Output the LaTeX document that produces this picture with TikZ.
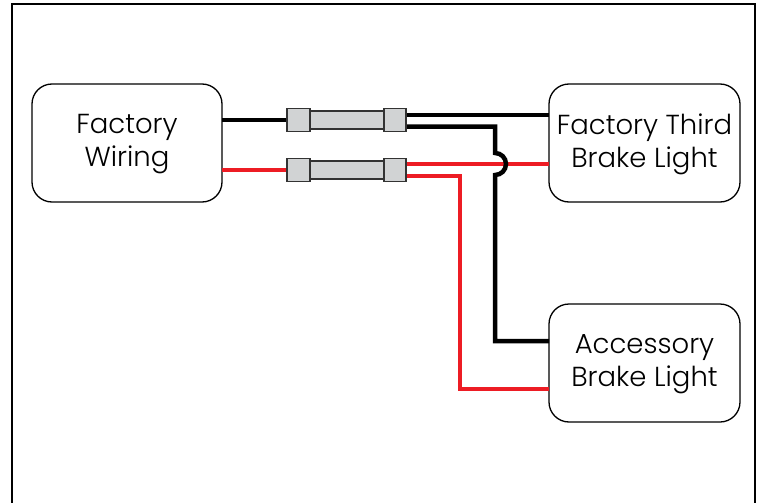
\documentclass[tikz,border=0pt]{standalone}
\usepackage{fontspec}
\setmainfont{Poppins}[UprightFont=* Light]
\begin{document}
\begin{tikzpicture}[x=1pt,y=-1pt,
  box/.style={draw=black, line width=1.3pt, rounded corners=20pt, fill=white},
  lbl/.style={align=center, font=\fontsize{27.5}{33}\selectfont, inner sep=0pt},
  blk/.style={line width=4.5pt, draw=black, line join=miter},
  red/.style={line width=4.5pt, draw=wirered, line join=miter},
  fusecap/.style={draw=fuseedge, fill=fusegray, line width=1.2pt},
  fusebody/.style={draw=fuseedge, fill=fusegray, line width=1.2pt}]
\definecolor{wirered}{HTML}{ED1C24}
\definecolor{fusegray}{HTML}{D1D3D4}
\definecolor{fuseedge}{HTML}{333333}
\useasboundingbox (0,0) rectangle (760,503);
\fill[white] (0,0) rectangle (760,503);
\draw[line width=1.3pt] (12,510) -- (12,4) -- (755,4) -- (755,510);

% boxes
\draw[box] (32,84) rectangle (222,202);
\draw[box] (549,84) rectangle (740,202);
\draw[box] (549,304) rectangle (740,422);
\coordinate (fwR1) at (222,120);
\coordinate (fwR2) at (222,170);
\coordinate (ftL1) at (549,115);
\coordinate (ftL2) at (549,164);
\coordinate (acL1) at (549,341);
\coordinate (acL2) at (549,389);

% fuse positions
\coordinate (f1L) at (287,120);
\coordinate (f2L) at (287,170);

% wires left of fuses
\draw[blk] (fwR1) -- (f1L);
\draw[red] (fwR2) -- (f2L);
% fuse outputs
\draw[blk] (406,115) -- (ftL1);
\draw[red] (406,164) -- (ftL2);
\draw[red] (406,176) -- (460,176) -- (460,389) -- (acL2);
\draw[blk] (406,126.5) -- (495,126.5) -- (495,153) arc[start angle=-90, end angle=90, radius=11] -- (495,341) -- (acL1);

% fuses
\foreach \y in {120,170}{
  \draw[fusebody] (310,\y-9) rectangle (384,\y+9);
  \draw[fusecap] (287,\y-11.5) rectangle (310,\y+11.5);
  \draw[fusecap] (384,\y-11.5) rectangle (406,\y+11.5);
}

\node[lbl] (fw) at (127,144) {Factory\\Wiring};
\node[lbl] (ft) at (644.5,144) {Factory Third\\Brake Light};
\node[lbl] (ac) at (644.5,364) {Accessory\\Brake Light};
\end{tikzpicture}
\end{document}
